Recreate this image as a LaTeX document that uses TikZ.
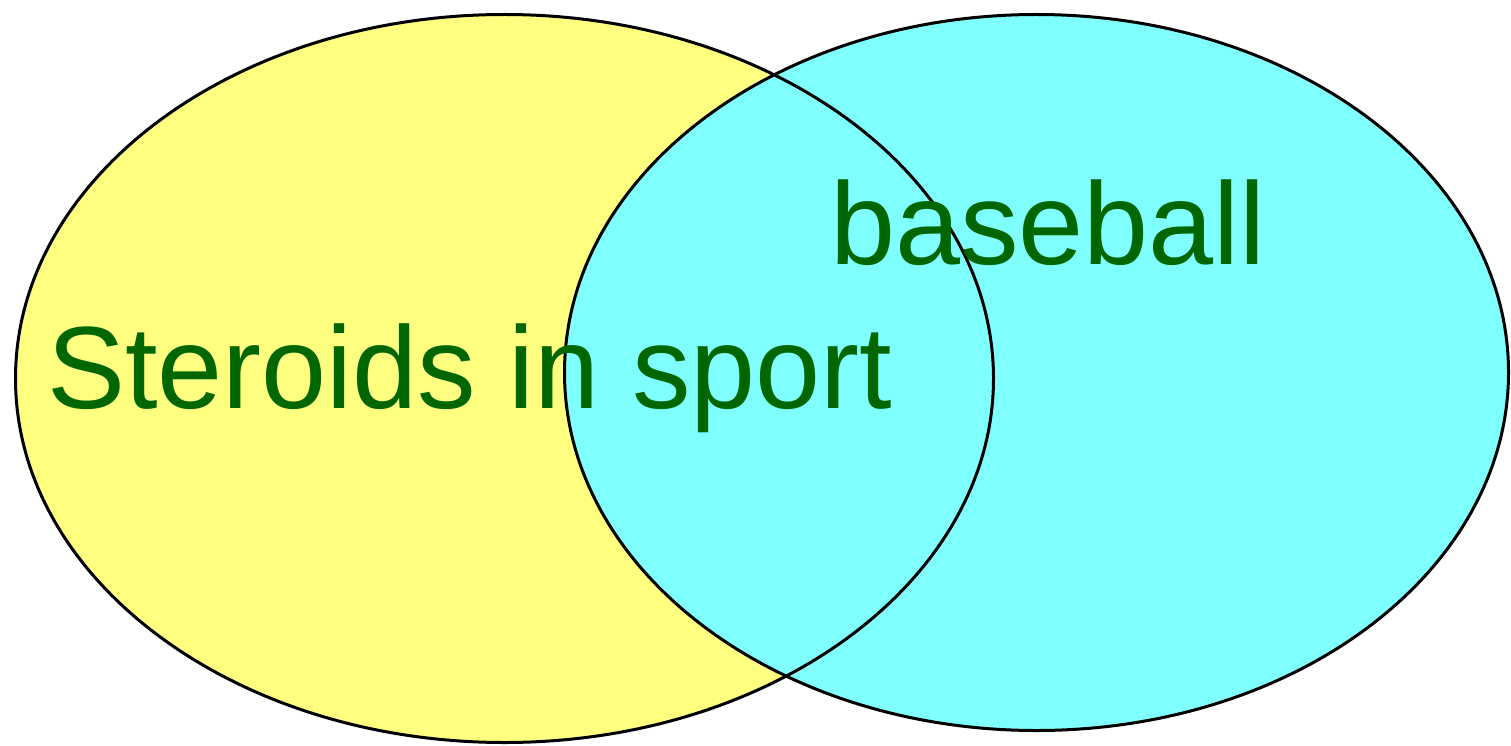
\documentclass[tikz,border=0pt]{standalone}
\usepackage{fontspec}
\setmainfont{Liberation Sans}
\definecolor{vyellow}{HTML}{FFFF80}
\definecolor{vcyan}{HTML}{80FFFF}
\definecolor{vgreen}{HTML}{006600}
\tikzset{
  outline/.style={draw=black, line width=3pt},
  label/.style={text=vgreen, font=\fontsize{117}{140}\selectfont, inner sep=0pt, anchor=base west}
}
\begin{document}
\begin{tikzpicture}[x=1pt,y=-1pt]
\useasboundingbox (0,0) rectangle (1511,746);
\fill[vyellow] (504.5,378.5) ellipse [x radius=489, y radius=364];
\fill[vcyan] (1036.5,372.5) ellipse [x radius=472, y radius=358];
\draw[outline] (504.5,378.5) ellipse [x radius=489, y radius=364];
\draw[outline] (1036.5,372.5) ellipse [x radius=472, y radius=358];
\node[label] (steroids) at (47,408) {Steroids in sport};
\node[label] (baseball) at (830,264) {baseball};
\end{tikzpicture}
\end{document}
